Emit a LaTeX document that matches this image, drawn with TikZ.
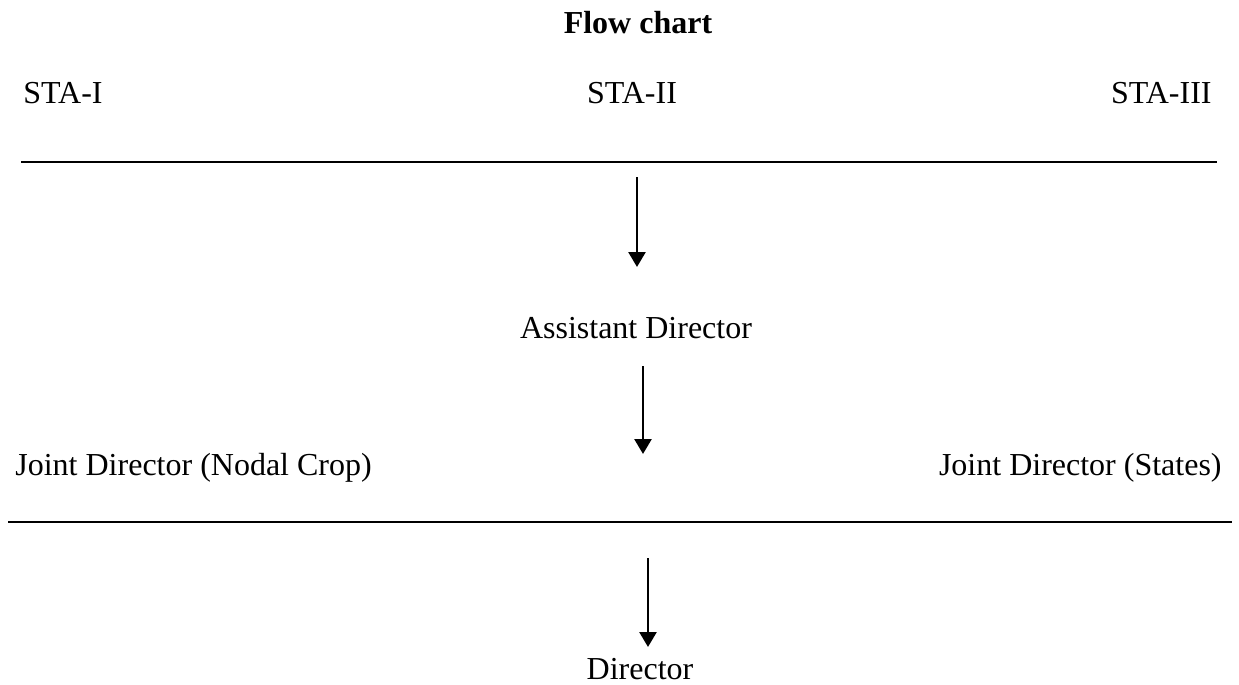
\documentclass[tikz,border=0pt]{standalone}
\usepackage{fontspec}
\setmainfont{Liberation Serif}
\usetikzlibrary{arrows.meta,positioning}
\tikzset{
  lbl/.style={inner sep=0pt, font=\fontsize{16}{19}\selectfont},
  rule/.style={line width=1.2pt},
  flow/.style={line width=1.3pt, -{Triangle[length=7.5pt,width=8.5pt]}}
}
\begin{document}
\begin{tikzpicture}[x=0.5pt, y=-0.5pt]
  \useasboundingbox (0,0) rectangle (1239,685);
  \node[lbl, font=\fontsize{16}{19}\selectfont\bfseries, anchor=base] (title) at (638,33) {Flow chart};

  \node[lbl, anchor=base west] (sta1) at (23,103) {STA-I};
  \node[lbl, anchor=base] (sta2) at (632,103) {STA-II};
  \node[lbl, anchor=base east] (sta3) at (1212,103) {STA-III};

  \coordinate (r1w) at (21,162);
  \coordinate (r1e) at (1217,162);
  \draw[rule] (r1w) -- (r1e);

  \coordinate (f1s) at (637,177);
  \coordinate (f1e) at (637,267);
  \draw[flow] (f1s) -- (f1e);

  \node[lbl, anchor=base] (ad) at (636,338) {Assistant Director};

  \coordinate (f2s) at (643,366);
  \coordinate (f2e) at (643,454);
  \draw[flow] (f2s) -- (f2e);

  \node[lbl, anchor=base west] (jdn) at (15,475) {Joint Director (Nodal Crop)};
  \node[lbl, anchor=base east] (jds) at (1222,475) {Joint Director (States)};

  \coordinate (r2w) at (8,522);
  \coordinate (r2e) at (1232,522);
  \draw[rule] (r2w) -- (r2e);

  \coordinate (f3s) at (648,558);
  \coordinate (f3e) at (648,647);
  \draw[flow] (f3s) -- (f3e);

  \node[lbl, anchor=base] (dir) at (640,679) {Director};
\end{tikzpicture}
\end{document}
